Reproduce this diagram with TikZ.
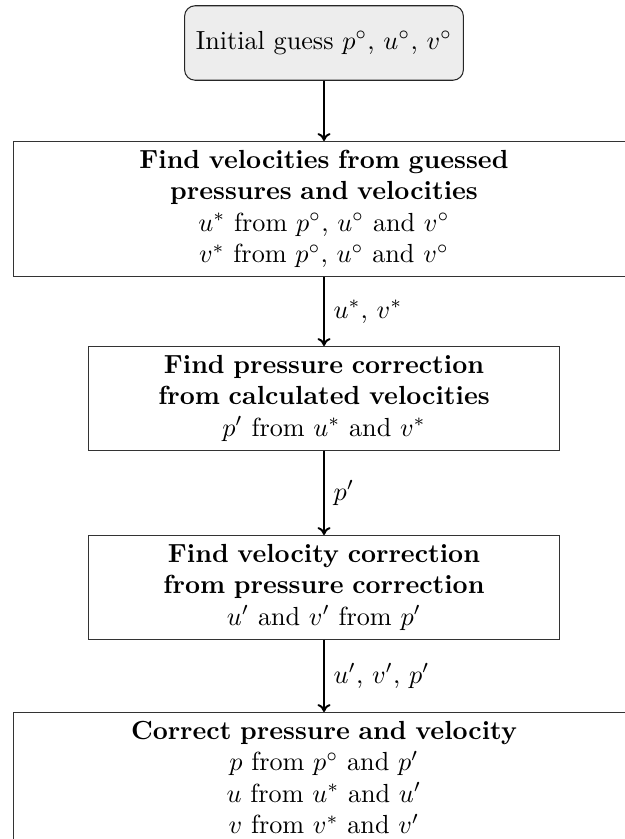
\documentclass[tikz,border=0pt]{standalone}
\usetikzlibrary{arrows.meta}
\begin{document}
\begin{tikzpicture}[x=0.382pt,y=-0.382pt,
  startbox/.style={draw=black!85, fill=black!7, rounded corners=4pt, minimum height=1cm, minimum width=106.5pt, align=center},
  widebox/.style={draw=black!80, align=center, text width=230.5pt, anchor=north},
  midbox/.style={draw=black!80, align=center, text width=173.5pt, anchor=north},
  flow/.style={-{To[length=3pt,width=5pt]}, line width=0.75pt},
  lbl/.style={right, midway}]
\useasboundingbox (0,0) rectangle (624,839);
\node[startbox] (init) at (324,43) {Initial guess $p^\circ$, $u^\circ$, $v^\circ$};
\node[widebox] (vel) at (324,141) {\textbf{Find velocities from guessed}\\
  \textbf{pressures and velocities}\\
  $u^*$ from $p^\circ$, $u^\circ$ and $v^\circ$\\
  $v^*$ from $p^\circ$, $u^\circ$ and $v^\circ$};
\node[midbox] (pc) at (324,346) {\textbf{Find pressure correction}\\
  \textbf{from calculated velocities}\\
  $p'$ from $u^*$ and $v^*$};
\node[midbox] (vc) at (324,535) {\textbf{Find velocity correction}\\
  \textbf{from pressure correction}\\
  $u'$ and $v'$ from $p'$};
\node[widebox] (corr) at (324,712) {\textbf{Correct pressure and velocity}\\
  $p$ from $p^\circ$ and $p'$\\
  $u$ from $u^*$ and $u'$\\
  $v$ from $v^*$ and $v'$};
\draw[flow] (init) -- (vel);
\draw[flow] (vel) -- node[lbl] {$u^*$, $v^*$} (pc);
\draw[flow] (pc) -- node[lbl] {$p'$} (vc);
\draw[flow] (vc) -- node[lbl] {$u'$, $v'$, $p'$} (corr);
\end{tikzpicture}
\end{document}
